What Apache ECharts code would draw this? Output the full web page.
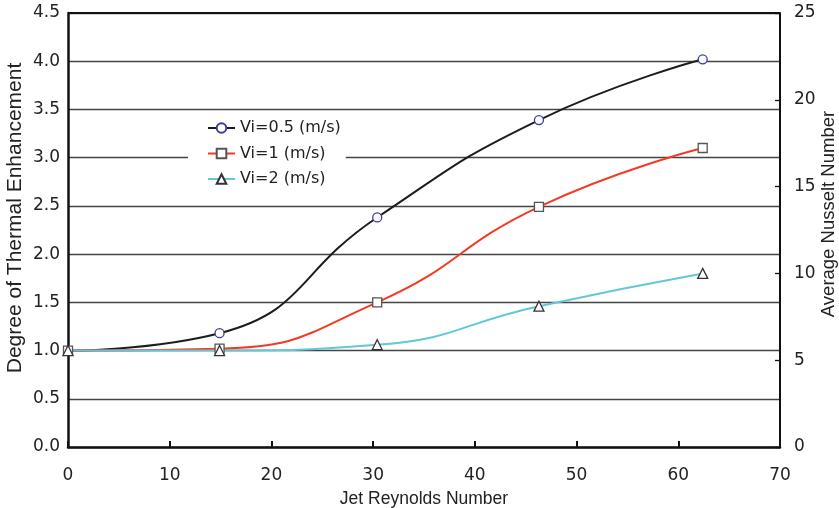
<!DOCTYPE html>
<html>
<head>
<meta charset="utf-8">
<script src="https://cdn.jsdelivr.net/npm/echarts@6/dist/echarts.min.js"></script>
<style>
  html, body { margin: 0; padding: 0; background: #fff; }
  #chart { width: 839px; height: 508px; }
</style>
</head>
<body>
<div id="chart"></div>
<script>
// Jet Reynolds number at each measured point
const reynolds = [0, 14.9, 30.4, 46.3, 62.4];

// Degree of thermal enhancement for each inlet velocity
const vi05 = [1.00, 1.18, 2.38, 3.39, 4.02];
const vi1  = [1.00, 1.02, 1.50, 2.49, 3.10];
const vi2  = [1.00, 1.00, 1.06, 1.46, 1.80];

const seriesNames = ['Vi=0.5 (m/s)', 'Vi=1 (m/s)', 'Vi=2 (m/s)'];

const pairs = ys => reynolds.map((x, i) => [x, ys[i]]);

const tickFont = { fontFamily: 'DejaVu Sans', fontSize: 17, color: '#222' };
const titleFont = { fontFamily: 'Liberation Sans', color: '#222' };

function lineSeries(name, data, color, symbol, border) {
  return {
    name: name,
    type: 'line',
    data: pairs(data),
    smooth: 0.5,
    symbol: symbol,
    symbolSize: symbol === 'triangle' ? 10 : 9,
    showSymbol: true,
    lineStyle: { color: color, width: 2 },
    itemStyle: { color: '#fff', borderColor: border, borderWidth: 1.3 },
    emphasis: { disabled: true },
    z: 3
  };
}

const chart = echarts.init(document.getElementById('chart'), null, { renderer: 'canvas' });

chart.setOption({
  animation: false,
  backgroundColor: '#fff',
  grid: { left: 68, right: 59, top: 13, bottom: 61, containLabel: false, outerBoundsMode: 'none' },
  legend: {
    data: seriesNames.map(n => ({ name: n })),
    orient: 'vertical',
    left: 188,
    top: 112,
    padding: [8, 5, 8, 19],
    backgroundColor: '#fff',
    itemWidth: 27,
    itemHeight: 12,
    itemGap: 9.5,
    textStyle: { fontFamily: 'DejaVu Sans', fontSize: 16, color: '#222', lineHeight: 16 },
    z: 10
  },
  xAxis: {
    type: 'value',
    min: 0, max: 70, interval: 10,
    name: 'Jet Reynolds Number',
    nameLocation: 'middle',
    nameMoveOverlap: false,
    nameGap: 43,
    nameTextStyle: Object.assign({ fontSize: 17.5 }, titleFont),
    axisLine: { show: true, onZero: false, lineStyle: { color: '#111', width: 2.5 } },
    axisTick: { show: true, inside: true, length: 6, lineStyle: { color: '#111', width: 2 } },
    axisLabel: Object.assign({ margin: 20 }, tickFont),
    splitLine: { show: false }
  },
  yAxis: [
    {
      type: 'value',
      min: 0, max: 4.5, interval: 0.5,
      name: 'Degree of Thermal Enhancement',
      nameLocation: 'middle',
      nameMoveOverlap: false,
      nameRotate: 90,
      nameGap: 42,
      nameTextStyle: Object.assign({ fontSize: 21, padding: [0, 0, 0, 24] }, titleFont),
      axisLine: { show: true, lineStyle: { color: '#111', width: 2.5 } },
      axisTick: { show: false },
      axisLabel: Object.assign({ margin: 8, formatter: v => v.toFixed(1) }, tickFont),
      splitLine: { show: true, lineStyle: { color: '#444', width: 1.3 } }
    },
    {
      type: 'value',
      min: 0, max: 25, interval: 5,
      position: 'right',
      name: 'Average Nusselt Number',
      nameLocation: 'middle',
      nameMoveOverlap: false,
      nameRotate: 90,
      nameGap: 39,
      nameTextStyle: Object.assign({ fontSize: 18.5, padding: [0, 0, 0, 32] }, titleFont),
      axisLine: { show: true, lineStyle: { color: '#111', width: 2 } },
      axisTick: { show: true, inside: true, length: 5, lineStyle: { color: '#111', width: 1.3 } },
      axisLabel: Object.assign({ margin: 14 }, tickFont),
      splitLine: { show: false }
    }
  ],
  series: [
    lineSeries(seriesNames[0], vi05, '#1c1c1c', 'circle', '#3b3b9e'),
    lineSeries(seriesNames[1], vi1, '#f23b22', 'rect', '#555'),
    lineSeries(seriesNames[2], vi2, '#63c6d9', 'triangle', '#333')
  ]
});

// Top border of the plot area drawn as a heavier line at 4.5
chart.setOption({
  series: [{}, {}, {
    markLine: {
      silent: true,
      symbol: 'none',
      label: { show: false },
      lineStyle: { color: '#111', width: 2, type: 'solid' },
      data: [{ yAxis: 4.5 }]
    }
  }]
});
</script>
</body>
</html>
